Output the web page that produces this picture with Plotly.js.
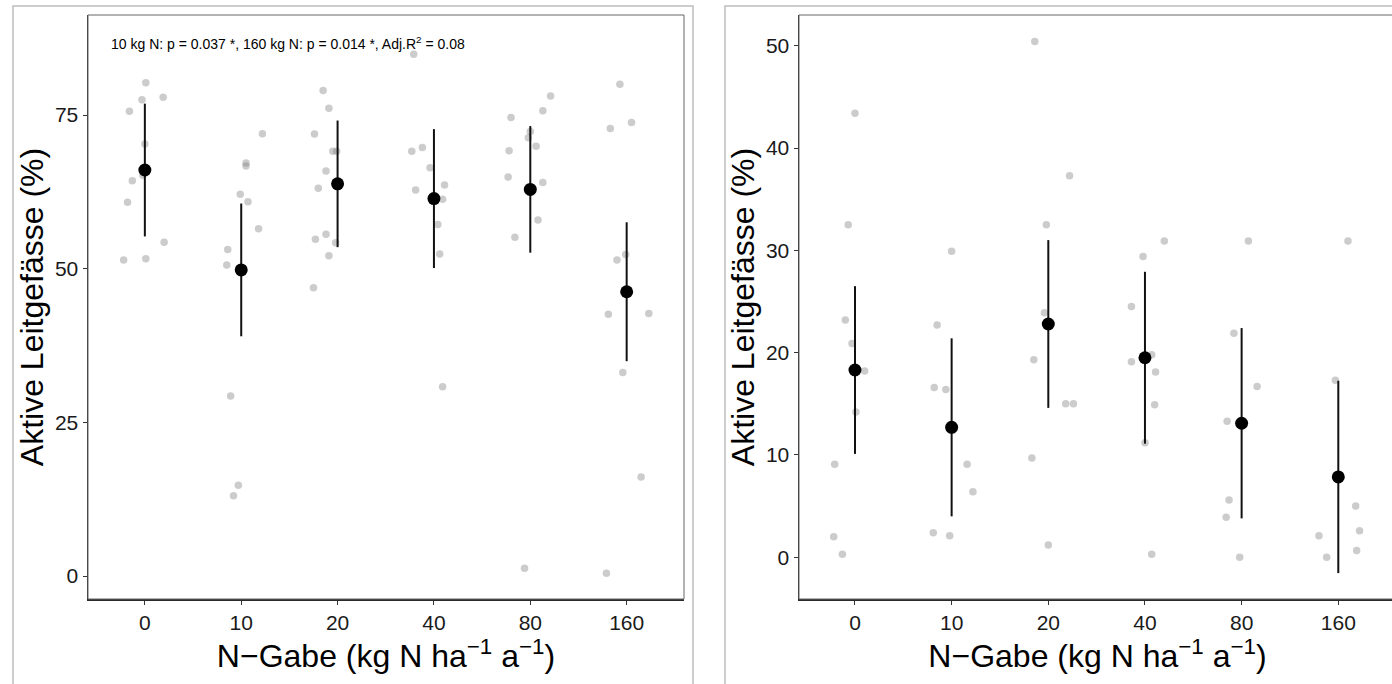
<!DOCTYPE html>
<html>
<head>
<meta charset="utf-8">
<script src="https://cdn.plot.ly/plotly-3.0.1.min.js"></script>
<style>
html,body{margin:0;padding:0;background:#fff;overflow:hidden;}
#chart{width:1400px;height:684px;}
</style>
</head>
<body>
<div id="chart"></div>
<script>
// Tick labels / categories
const categories = ['0', '10', '20', '40', '80', '160'];

// Left panel: raw observations (%) per group and horizontal jitter (category units)
const leftValues = [
  [80.25, 77.9, 77.5, 75.6, 70.3, 65.2, 64.3, 60.8, 54.3, 51.4, 51.6],
  [71.95, 67.2, 66.7, 62.1, 60.9, 56.5, 53.1, 50.6, 29.3, 14.75, 13.06],
  [79.0, 76.1, 71.9, 69.1, 69.1, 65.9, 63.1, 55.6, 54.8, 54.2, 52.1, 46.9],
  [84.9, 69.1, 69.7, 66.4, 62.8, 63.6, 61.3, 57.2, 52.4, 30.8],
  [78.1, 75.7, 74.6, 72.3, 71.3, 69.9, 69.2, 64.9, 64.0, 57.9, 55.1, 1.25],
  [80.0, 73.8, 72.8, 52.3, 51.4, 42.6, 42.7, 33.1, 16.1, 0.44]
];
const leftJitter = [
  [0.01, 0.19, -0.03, -0.16, 0.0, -0.02, -0.13, -0.18, 0.20, -0.22, 0.01],
  [0.22, 0.05, 0.05, -0.01, 0.07, 0.18, -0.14, -0.15, -0.11, -0.03, -0.08],
  [-0.15, -0.09, -0.24, -0.05, -0.01, -0.12, -0.20, -0.12, -0.23, -0.02, -0.09, -0.25],
  [-0.21, -0.23, -0.12, -0.04, -0.19, 0.11, 0.09, 0.04, 0.06, 0.09],
  [0.21, 0.13, -0.20, 0.0, -0.02, 0.06, -0.22, -0.23, 0.13, 0.08, -0.16, -0.06],
  [-0.07, 0.05, -0.17, -0.01, -0.10, -0.19, 0.23, -0.04, 0.15, -0.21]
];
const leftMeans = [66.05, 49.8, 63.8, 61.4, 62.9, 46.25];
const leftErr = [10.8, 10.8, 10.3, 11.3, 10.3, 11.3];

// Right panel
const rightValues = [
  [43.4, 32.5, 23.2, 20.9, 18.2, 14.2, 9.1, 2.0, 0.3],
  [29.9, 22.7, 16.6, 16.4, 9.1, 6.4, 2.4, 2.1],
  [50.4, 37.3, 32.5, 23.9, 19.3, 15.0, 15.0, 9.7, 1.2],
  [30.9, 29.4, 24.5, 19.8, 19.1, 18.1, 14.9, 11.2, 0.3],
  [30.9, 21.9, 16.7, 13.3, 5.6, 3.9, 0.0],
  [30.9, 17.3, 5.0, 2.1, 2.6, 0.0, 0.65]
];
const rightJitter = [
  [0.0, -0.07, -0.10, -0.03, 0.10, 0.01, -0.21, -0.22, -0.13],
  [0.0, -0.15, -0.18, -0.06, 0.16, 0.22, -0.19, -0.02],
  [-0.14, 0.22, -0.02, -0.04, -0.15, 0.18, 0.26, -0.17, 0.0],
  [0.20, -0.02, -0.14, 0.07, -0.14, 0.11, 0.10, 0.0, 0.07],
  [0.07, -0.08, 0.16, -0.15, -0.13, -0.16, -0.02],
  [0.10, -0.03, 0.18, -0.20, 0.22, -0.12, 0.19]
];
const rightMeans = [18.3, 12.7, 22.8, 19.5, 13.1, 7.85];
const rightErr = [8.2, 8.7, 8.2, 8.4, 9.3, 9.4];

const annotationText = '10 kg N: p = 0.037 *, 160 kg N: p = 0.014 *, Adj.R<sup>2</sup> = 0.08';
const xTitle = 'N\u2212Gabe (kg N ha<sup>\u22121</sup> a<sup>\u22121</sup>)';
const yTitle = 'Aktive Leitgefässe (%)';

const FONT = 'Liberation Sans, Arial, Helvetica, sans-serif';
const positions = categories.map((c, i) => i + 1);

function rawTrace(values, jitter, xa, ya) {
  const x = [], y = [];
  values.forEach((grp, i) => grp.forEach((v, j) => { x.push(positions[i] + jitter[i][j]); y.push(v); }));
  return {
    type: 'scatter', mode: 'markers', x: x, y: y, xaxis: xa, yaxis: ya,
    marker: {color: 'rgba(127,127,127,0.4)', size: 7.5, line: {width: 0}},
    hoverinfo: 'skip', showlegend: false
  };
}
function meanTrace(means, errs, xa, ya) {
  return {
    type: 'scatter', mode: 'markers', x: positions, y: means, xaxis: xa, yaxis: ya,
    marker: {color: '#000', size: 13, line: {width: 0}},
    error_y: {type: 'data', array: errs, visible: true, color: '#111', thickness: 2, width: 0},
    hoverinfo: 'skip', showlegend: false
  };
}

const data = [
  rawTrace(leftValues, leftJitter, 'x', 'y'),
  meanTrace(leftMeans, leftErr, 'x', 'y'),
  rawTrace(rightValues, rightJitter, 'x2', 'y2'),
  meanTrace(rightMeans, rightErr, 'x2', 'y2')
];

const xCommon = {
  tickmode: 'array', tickvals: positions, ticktext: categories,
  showline: true, linecolor: '#2a2a2a', linewidth: 1.5, mirror: false,
  ticks: 'outside', ticklen: 4, tickcolor: '#333', tickwidth: 1,
  tickfont: {family: FONT, size: 21, color: '#1a1a1a'},
  showgrid: false, zeroline: false,
  title: {text: xTitle, font: {family: FONT, size: 32, color: '#000'}, standoff: 10}
};
const yCommon = {
  showline: true, linecolor: '#2a2a2a', linewidth: 1.5, mirror: false,
  ticks: 'outside', ticklen: 4, tickcolor: '#333', tickwidth: 1,
  tickfont: {family: FONT, size: 21, color: '#1a1a1a'},
  showgrid: false, zeroline: false,
  title: {text: yTitle, font: {family: FONT, size: 32, color: '#000'}, standoff: 1}
};

const layout = {
  width: 1400, height: 684,
  margin: {l: 88, r: 4, t: 15, b: 85},
  paper_bgcolor: '#fff', plot_bgcolor: '#fff',
  font: {family: FONT, color: '#000'},
  showlegend: false,
  xaxis: Object.assign({}, xCommon, {domain: [0, 0.45566], range: [0.41, 6.595], anchor: 'y'}),
  yaxis: Object.assign({}, yCommon, {domain: [0, 1], range: [-3.74, 91.27], tickvals: [0, 25, 50, 75], anchor: 'x'}),
  xaxis2: Object.assign({}, xCommon, {domain: [0.54358, 1], range: [0.421, 6.597], anchor: 'y2'}),
  yaxis2: Object.assign({}, yCommon, {domain: [0, 1], range: [-4.08, 53.0], tickvals: [0, 10, 20, 30, 40, 50], anchor: 'x2'}),
  shapes: [
    {type: 'rect', xref: 'paper', yref: 'paper', x0: -0.05734, x1: 0.46254, y0: -0.2, y1: 1.01541,
     line: {color: '#bdbdbd', width: 1.5}, fillcolor: 'rgba(0,0,0,0)', layer: 'below'},
    {type: 'rect', xref: 'paper', yref: 'paper', x0: 0.48700, x1: 1.05, y0: -0.2, y1: 1.01541,
     line: {color: '#bdbdbd', width: 1.5}, fillcolor: 'rgba(0,0,0,0)', layer: 'below'},
    {type: 'rect', xref: 'x domain', yref: 'y domain', x0: 0, x1: 1, y0: 0, y1: 1,
     line: {color: '#666', width: 1}, fillcolor: 'rgba(0,0,0,0)', layer: 'above'},
    {type: 'rect', xref: 'x2 domain', yref: 'y2 domain', x0: 0, x1: 1, y0: 0, y1: 1,
     line: {color: '#666', width: 1}, fillcolor: 'rgba(0,0,0,0)', layer: 'above'}
  ],
  annotations: [
    {text: annotationText, xref: 'x domain', yref: 'y domain', x: 0.035, y: 0.952,
     xanchor: 'left', yanchor: 'middle', showarrow: false,
     font: {family: FONT, size: 14, color: '#000'}}
  ]
};

Plotly.newPlot('chart', data, layout, {displayModeBar: false, staticPlot: true});
</script>
</body>
</html>
